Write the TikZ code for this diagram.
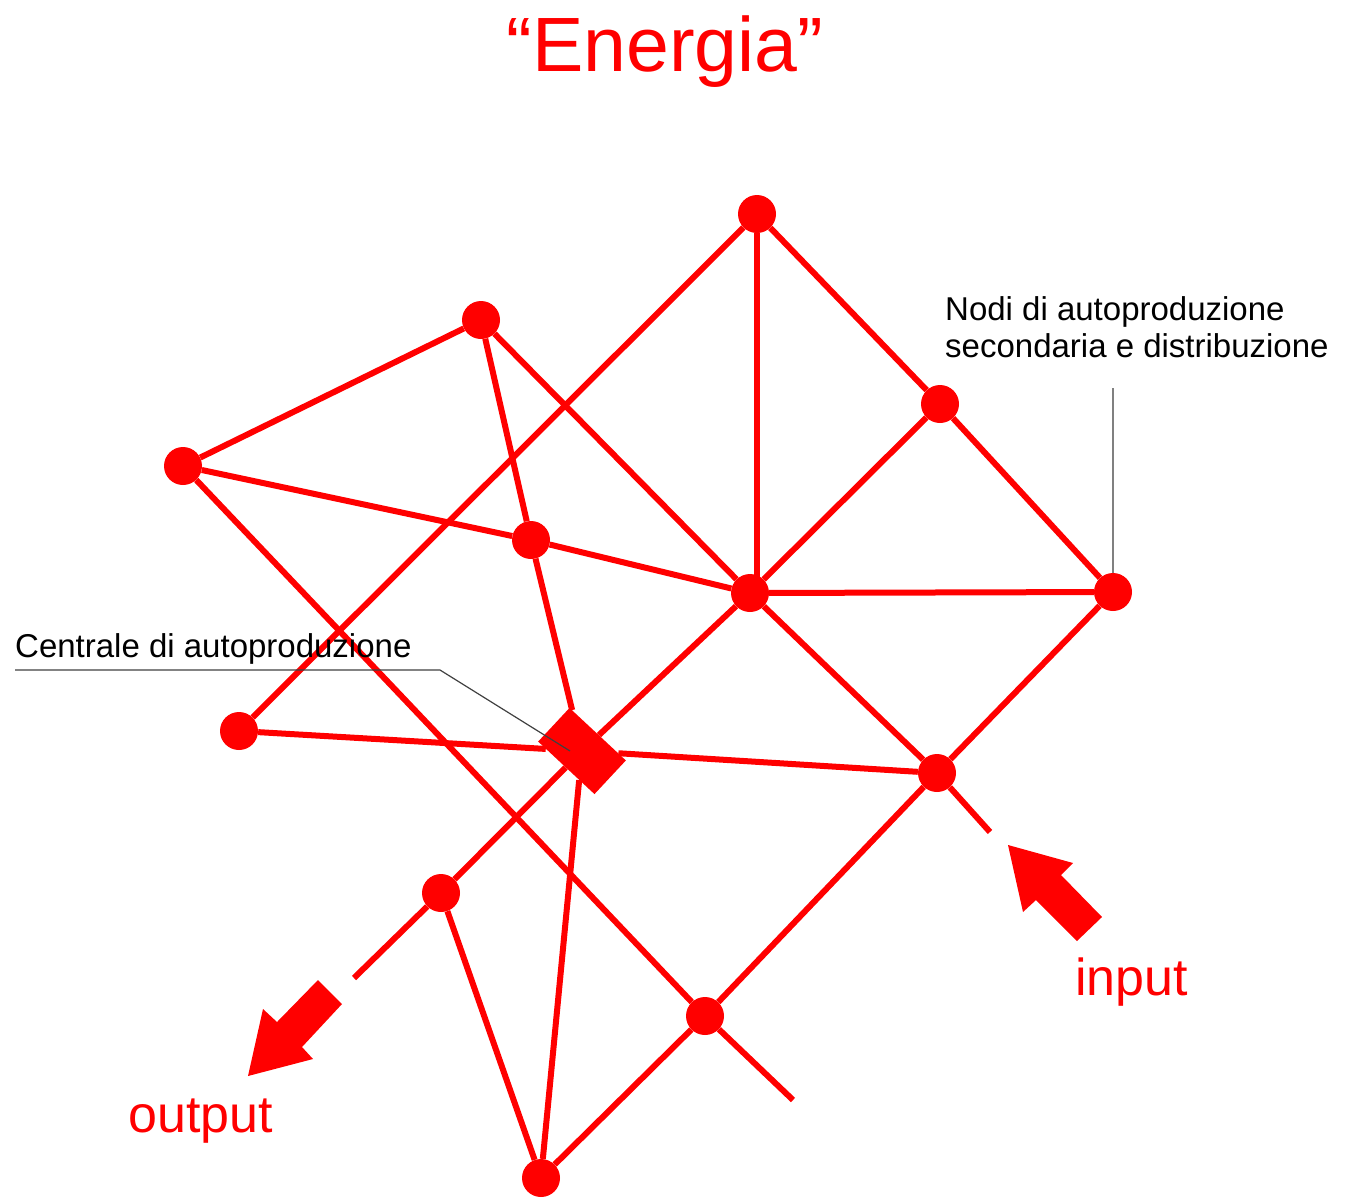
\documentclass[tikz,border=0pt]{standalone}
\usepackage{fontspec}
\setmainfont{Liberation Sans}
\begin{document}
\begin{tikzpicture}[x=1pt,y=-1pt,
  dot/.style={circle,fill=red,inner sep=0pt,minimum size=38pt},
  hub/.style={fill=red,inner sep=0pt,rotate=-43,minimum width=77pt,minimum height=46pt},
  link/.style={red,line width=6pt},
  lead/.style={line width=1.2pt,black!75},
  fat/.style={fill=red},
  big/.style={red,font=\fontsize{52}{60}\selectfont},
  note/.style={black,font=\fontsize{33}{37}\selectfont}]
\useasboundingbox (0,0) rectangle (1347,1203);
% nodes
\node[dot] (A) at (757,214) {};
\node[dot] (B) at (481,320) {};
\node[dot] (C) at (183,466) {};
\node[dot] (D) at (531,540) {};
\node[dot] (E) at (750,593) {};
\node[dot] (F) at (940,404) {};
\node[dot] (G) at (1113,592) {};
\node[dot] (H) at (239,731) {};
\node[hub] (K) at (582,751) {};
\node[dot] (I) at (937,773) {};
\node[dot] (J) at (441,893) {};
\node[dot] (L) at (705,1016) {};
\node[dot] (M) at (541,1178) {};
\coordinate (Iend) at (990,832);
\coordinate (Lend) at (793,1100);
\coordinate (Jend) at (354,978);
% connectors
\draw[link] (A) -- (F);
\draw[link] (F) -- (G);
\draw[link] (A) -- (A |- E);
\draw[link] (A) -- (H);
\draw[link] (B) -- (C);
\draw[link] (B) -- (D);
\draw[link] (D) -- (K);
\draw[link] (B) -- (E);
\draw[link] (C) -- (D);
\draw[link] (D) -- (E);
\draw[link] (C) -- (L);
\draw[link] (L) -- (Lend);
\draw[link] (E) -- (F);
\draw[link] (E) -- (G);
\draw[link] (E) -- (I);
\draw[link] (I) -- (Iend);
\draw[link] (E) -- (K);
\draw[link] (K) -- (J);
\draw[link] (J) -- (Jend);
\draw[link] (H) -- (K);
\draw[link] (K) -- (I);
\draw[link] (G) -- (I);
\draw[link] (I) -- (L);
\draw[link] (L) -- (M);
\draw[link] (K) -- (M);
\draw[link] (J) -- (M);
% big arrows
\fill[fat] (1008,845) -- (1073,863) -- (1061,875) -- (1102,917) -- (1077,941) -- (1036,900) -- (1023,912) -- cycle;
\fill[fat] (248,1076) -- (263,1009) -- (277,1022) -- (318,980) -- (342,1004) -- (302,1047) -- (313,1059) -- cycle;
% texts
\node[red,font=\fontsize{77}{80}\selectfont,anchor=base] (title) at (665,71) {“Energia”};
\node[note,anchor=north west,align=left,inner sep=0pt] (nodi) at (945,296) {Nodi di autoproduzione\\secondaria e distribuzione};
\node[note,anchor=base west,inner sep=0pt] (centrale) at (15,657) {Centrale di autoproduzione};
\node[big,anchor=base west,inner sep=0pt] (input) at (1075,995) {input};
\node[big,anchor=base west,inner sep=0pt] (output) at (128,1132) {output};
% leaders
\coordinate (nl) at (1113,388);
\draw[lead,black!50] (nl) -- (G);
\coordinate (c1) at (15,670);
\coordinate (c2) at (440,670);
\coordinate (c3) at (570,751);
\draw[lead] (c1) -- (c2) -- (c3);
\end{tikzpicture}
\end{document}
